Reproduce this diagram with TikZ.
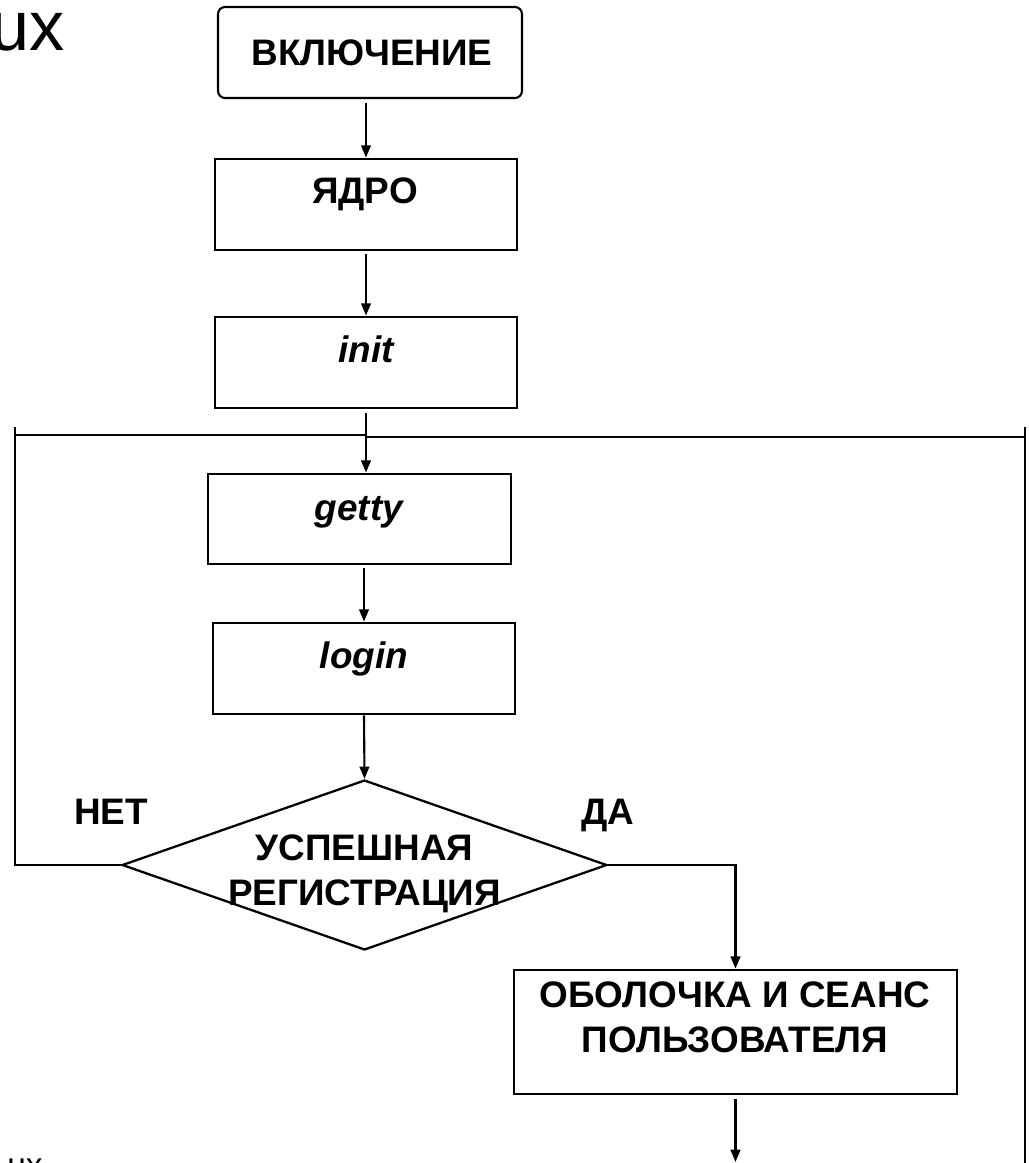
\documentclass[tikz,border=0pt]{standalone}
\usepackage{fontspec}
\setmainfont{Liberation Sans}
\usetikzlibrary{arrows.meta,shapes.geometric}

\begin{document}
\begin{tikzpicture}[x=0.02cm,y=-0.02cm,
	box/.style={draw,line width=1.6pt,minimum width=6.04cm,minimum height=1.82cm,inner sep=0pt},
	lbl/.style={anchor=base,align=center,font=\fontsize{21}{25.6}\selectfont\bfseries},
	prog/.style={anchor=base,font=\fontsize{21}{25.6}\selectfont\bfseries\itshape},
	conn/.style={line width=1.2pt},
	arr/.style={conn,-{Triangle[length=7pt,width=5.5pt]}}]
	\clip (0,0) rectangle (1028,1163);
	% boxes
	\node[box,rounded corners=4pt,line width=1.2pt,minimum width=6.08cm] (start) at (370,52.5) {};
	\node[box] (kernel) at (366,204.5) {};
	\node[box] (init) at (366,362.5) {};
	\node[box,minimum width=6.06cm,minimum height=1.8cm] (getty) at (359.5,519) {};
	\node[box] (login) at (364,668.5) {};
	\node[draw,diamond,line width=1.3pt,minimum width=9.7cm,minimum height=3.4cm,inner sep=0pt] (check) at (364.5,865) {};
	\node[box,minimum width=8.86cm,minimum height=2.48cm] (shell) at (735.5,1032) {};
	% texts
	\node[lbl] (start-t) at (372,65) {ВКЛЮЧЕНИЕ};
	\node[lbl] (kernel-t) at (365,203) {ЯДРО};
	\node[prog] (init-t) at (366,362) {init};
	\node[prog] (getty-t) at (359,520) {getty};
	\node[prog] (login-t) at (364,668) {login};
	\node[lbl] (check-t) at (364.5,905) {УСПЕШНАЯ\\РЕГИСТРАЦИЯ};
	\node[lbl] (shell-t) at (735,1052) {ОБОЛОЧКА И СЕАНС\\ПОЛЬЗОВАТЕЛЯ};
	\node[lbl] (no) at (111,824) {НЕТ};
	\node[lbl] (yes) at (608,824) {ДА};
	\node[anchor=base east,inner sep=0pt,font=\fontsize{40}{48}\selectfont] (title) at (65,50) {ux};
	\node[anchor=base west,inner sep=0pt,font=\fontsize{19}{23}\selectfont] (foot) at (7,1176) {ux};
	% loop points
	\coordinate (nl-top) at (15,427);
	\coordinate (bar) at (366,435);
	\coordinate (rt-top) at (1025,427);
	\coordinate (rt-bot) at (1025,1163);
	\coordinate (exit) at (734,1162);
	% connectors
	\draw[arr,shorten <=2.3pt] (kernel.north |- start.south) -- (kernel.north);
	\draw[arr,shorten <=1.7pt] (kernel.south) -- (init.north);
	\draw[arr,shorten <=2.3pt] (init.south) -- (init.south |- getty.north);
	\draw[arr,shorten <=1.7pt] (getty.south -| login.north) -- (login.north);
	\draw[arr] (login.south) -- (check.north);
	\draw[conn] (check.west) -| (nl-top);
	\draw[conn] (nl-top |- bar) -- (bar);
	\draw[conn] ([yshift=-1.1pt]bar) -- ([yshift=-1.1pt]bar -| rt-top);
	\draw[conn] (rt-top) -- (rt-bot);
	\draw[arr] (check.east) -| (shell.north);
	\draw[arr,shorten <=2.3pt] (shell.south) -- (shell.south |- exit);
\end{tikzpicture}
\end{document}
